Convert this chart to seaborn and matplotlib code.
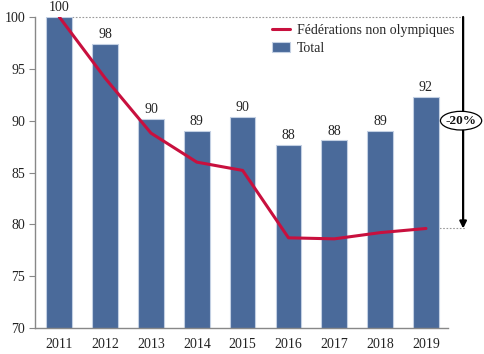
import matplotlib
matplotlib.use("Agg")
import matplotlib.pyplot as plt
from matplotlib.patches import Ellipse
import seaborn as sns
import pandas as pd

years = ["2011", "2012", "2013", "2014", "2015", "2016", "2017", "2018", "2019"]
total = [100.0, 97.4, 90.2, 89.0, 90.4, 87.7, 88.1, 89.0, 92.3]
total_labels = ["100", "98", "90", "89", "90", "88", "88", "89", "92"]
non_olymp = [100.0, 94.1, 88.8, 86.0, 85.2, 78.7, 78.6, 79.2, 79.6]
change_label = "-20%"

sns.set_style("white")
plt.rcParams["font.family"] = ["Liberation Serif", "DejaVu Serif"]

df = pd.DataFrame({"year": years, "total": total, "non": non_olymp})

fig = plt.figure(figsize=(4.85, 3.54), dpi=100)
ax = fig.add_axes([0.0722, 0.0734, 0.8515, 0.8786])

bar_color = "#4A6A9A"
line_color = "#C8103E"

sns.barplot(data=df, x="year", y="total", color=bar_color, width=0.56,
            edgecolor="#C3D0E3", linewidth=0.8, saturation=1, ax=ax,
            label="Total", zorder=2)
sns.lineplot(data=df, x="year", y="non", color=line_color, linewidth=2.2,
             ax=ax, label="Fédérations non olympiques", zorder=3)

ax.bar_label(ax.containers[0], labels=total_labels, padding=2, fontsize=10,
             color="#222222")

ax.set_ylim(70, 100)
ax.set_xlim(-0.53, 8.48)
ax.set_yticks([70, 75, 80, 85, 90, 95, 100])
ax.set_xlabel("")
ax.set_ylabel("")
for s in ["top", "right"]:
    ax.spines[s].set_visible(False)
for s in ["left", "bottom"]:
    ax.spines[s].set_color("#888888")
    ax.spines[s].set_linewidth(1.0)
ax.tick_params(axis="y", which="both", left=True, length=4, color="#888888",
               labelsize=10, labelcolor="#222222", pad=3)
ax.tick_params(axis="x", bottom=False, labelsize=10, labelcolor="#222222", pad=4)

# reference lines and arrow
x_arrow = 8.81
ax.plot([0.28, x_arrow], [100, 100], linestyle=(0, (1.5, 1.5)), color="#999999",
        linewidth=0.8, clip_on=False, zorder=1)
ax.plot([8.0, x_arrow + 0.06], [non_olymp[-1], non_olymp[-1]],
        linestyle=(0, (1.5, 1.5)), color="#999999", linewidth=0.8,
        clip_on=False, zorder=1)
ax.annotate("", xy=(x_arrow, non_olymp[-1]), xytext=(x_arrow, 100),
            arrowprops=dict(arrowstyle="-|>", color="black", linewidth=1.6,
                            mutation_scale=10, shrinkA=0, shrinkB=0),
            annotation_clip=False)
ell = Ellipse((8.765, 90), width=0.9, height=1.8, facecolor="white",
              edgecolor="black", linewidth=0.9, clip_on=False, zorder=5)
ax.add_patch(ell)
ax.text(8.765, 90, change_label, ha="center", va="center", fontsize=9.5,
        fontweight="bold", color="#111111", zorder=6, clip_on=False)

handles, labels = ax.get_legend_handles_labels()
order = [labels.index("Fédérations non olympiques"), labels.index("Total")]
ax.legend([handles[i] for i in order], [labels[i] for i in order],
          loc="upper right", bbox_to_anchor=(1.045, 1.018), frameon=False,
          fontsize=10, handlelength=1.3, handletextpad=0.45, labelspacing=0.35)

fig.savefig("out.png", dpi=100)
